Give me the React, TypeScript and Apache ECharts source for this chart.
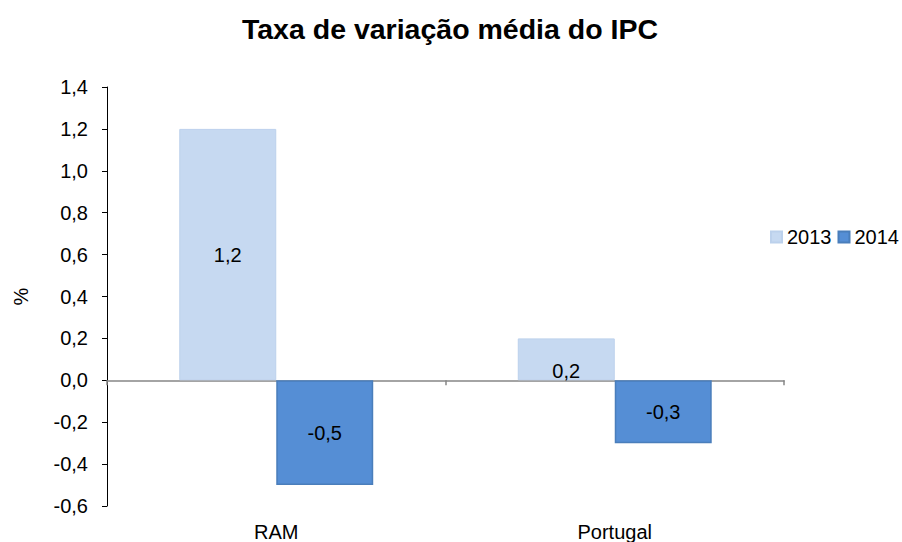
import React, { useEffect, useRef } from "react";
import * as echarts from "echarts";

const categories = ["RAM", "Portugal"];
const series2013 = [1.2, 0.2];
const series2014 = [-0.5, -0.3];
const seriesNames = ["2013", "2014"];
const titleText = "Taxa de variação média do IPC";

const fmt = (v: number) => v.toFixed(1).replace(".", ",");

export default function App() {
  const ref = useRef<HTMLDivElement>(null);
  useEffect(() => {
    const chart = echarts.init(ref.current!, undefined, { renderer: "svg" });
    const font = "Liberation Sans, Arial, sans-serif";
    chart.setOption({
      animation: false,
      textStyle: { fontFamily: font },
      title: {
        text: titleText,
        left: 450,
        textAlign: "center",
        top: 14,
        padding: 0,
        textStyle: { fontFamily: font, fontSize: 28.5, fontWeight: "bold", color: "#000" },
      },
      legend: {
        left: 770,
        top: 227,
        padding: 0,
        orient: "horizontal",
        itemWidth: 11,
        itemHeight: 11,
        itemGap: 6,
        icon: "rect",
        textStyle: { fontFamily: font, fontSize: 20, color: "#000", padding: [0, 0, 0, 0] },
        data: seriesNames,
      },
      grid: { left: 107, right: 118, top: 87, bottom: 35, containLabel: false },
      xAxis: [
        {
          type: "category",
          data: categories,
          axisLine: { show: false, onZero: false },
          axisTick: { show: false },
          axisLabel: { margin: 16, fontSize: 20, color: "#000", fontFamily: font },
        },
        {
          type: "category",
          data: categories,
          position: "bottom",
          axisLine: { show: true, onZero: true, lineStyle: { color: "#868686", width: 1.5 } },
          axisTick: { show: true, length: 5, lineStyle: { color: "#868686", width: 1.5 } },
          axisLabel: { show: false },
        },
      ],
      yAxis: {
        type: "value",
        min: -0.6,
        max: 1.4,
        interval: 0.2,
        name: "%",
        nameLocation: "middle",
        nameGap: 76,
        nameRotate: 90,
        nameTextStyle: { fontSize: 20, color: "#000", fontFamily: font },
        axisLine: { show: true, lineStyle: { color: "#000", width: 1 } },
        axisTick: { show: true, length: 5, lineStyle: { color: "#000" } },
        axisLabel: { fontSize: 20, color: "#000", margin: 19, fontFamily: font, formatter: (v: number) => fmt(v) },
        splitLine: { show: false },
      },
      series: [
        {
          name: seriesNames[0],
          type: "bar",
          xAxisIndex: 0,
          data: series2013.map((v, i) =>
            i === 1 ? { value: v, label: { offset: [0, 12] } } : v
          ),
          barGap: "0%",
          barCategoryGap: "42.7%",
          itemStyle: { color: "#C6D9F1", borderColor: "#BCD1EC", borderWidth: 1 },
          label: {
            show: true,
            position: "inside",
            color: "#000",
            fontSize: 20,
            fontFamily: font,
            formatter: (p: any) => fmt(p.value),
          },
          z: 2,
        },
        {
          name: seriesNames[1],
          type: "bar",
          xAxisIndex: 0,
          data: series2014,
          itemStyle: { color: "#558ED5", borderColor: "#4A7EBB", borderWidth: 1.5 },
          label: {
            show: true,
            position: "inside",
            color: "#000",
            fontSize: 20,
            fontFamily: font,
            formatter: (p: any) => fmt(p.value),
          },
          z: 2,
        },
      ],
    });
    return () => chart.dispose();
  }, []);
  return <div ref={ref} style={{ width: 902, height: 542, position: "absolute", left: 0, top: 0 }} />;
}
